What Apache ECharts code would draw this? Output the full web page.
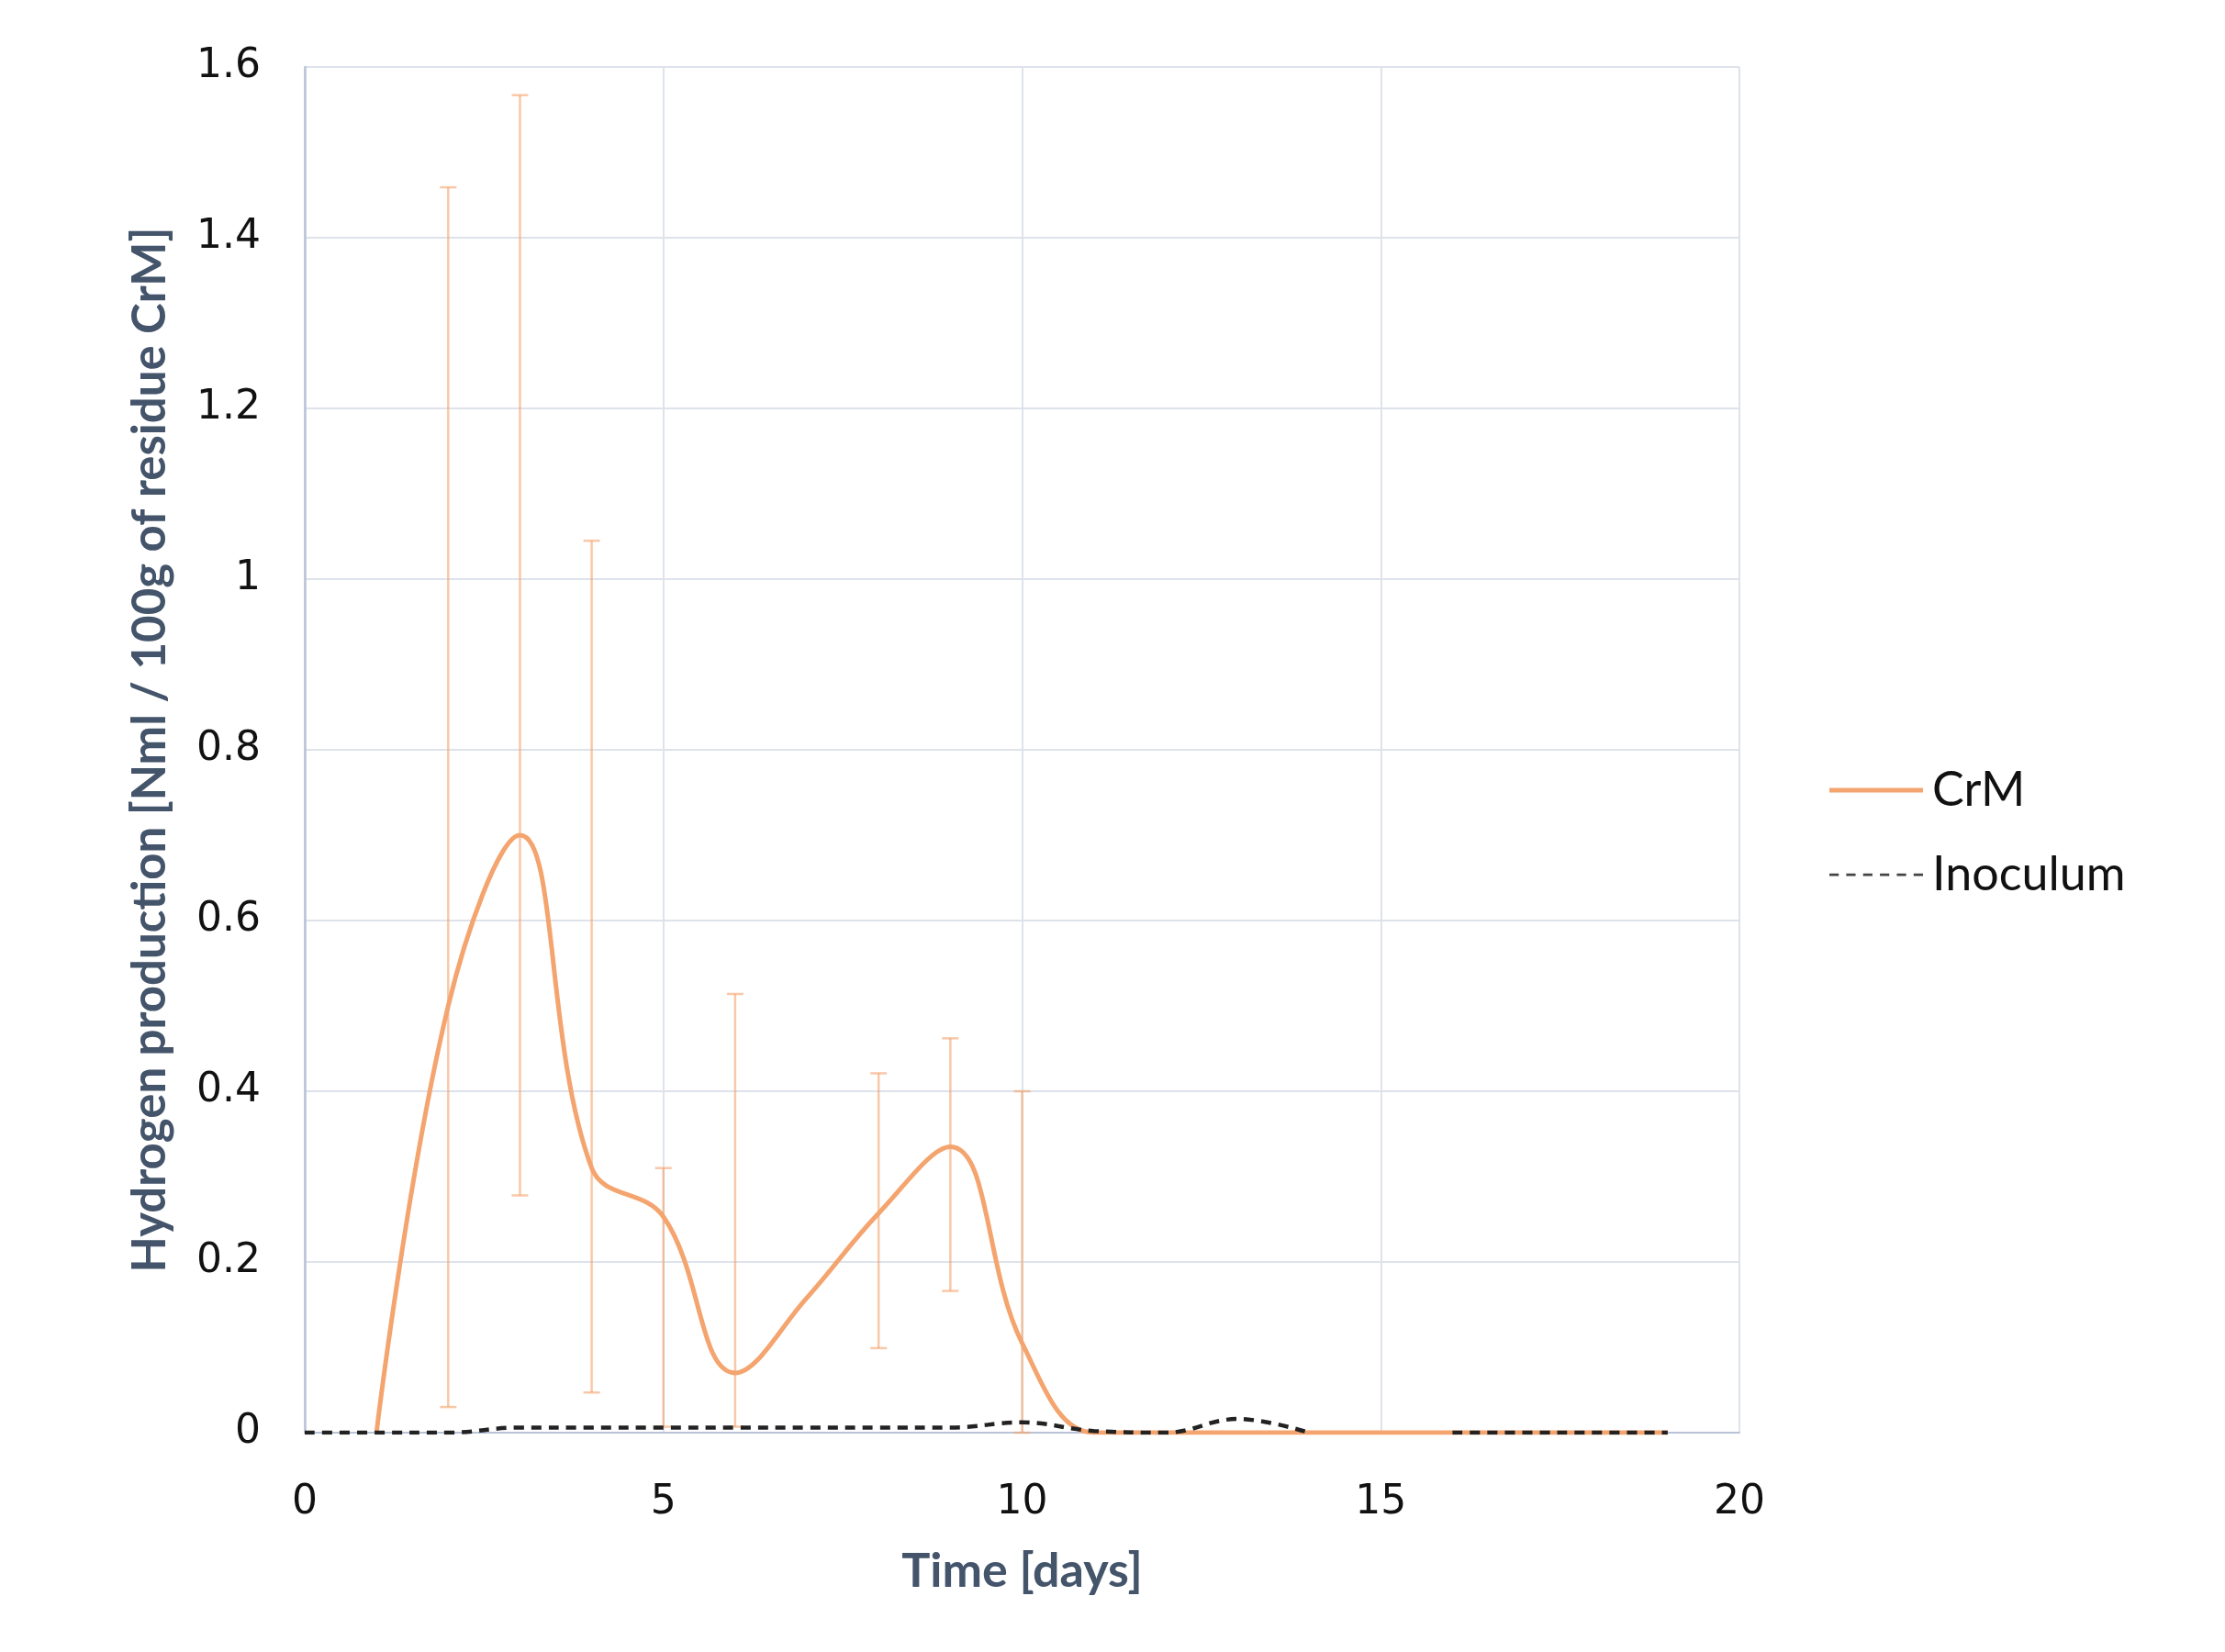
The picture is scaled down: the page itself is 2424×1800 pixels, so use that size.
<!DOCTYPE html>
<html>
<head>
<meta charset="utf-8">
<script src="https://cdn.jsdelivr.net/npm/echarts@6/dist/echarts.min.js"></script>
<style>
html,body{margin:0;padding:0;background:#fff;}
#chart{width:2424px;height:1800px;}
</style>
</head>
<body>
<div id="chart"></div>
<script>
// ---- data ----
const crmDays = [1, 2, 3, 4, 5, 6, 7, 8, 9, 10, 11, 12, 13, 14, 15, 16, 17, 18, 19];
const crmValues = [0, 0.50, 0.70, 0.31, 0.253, 0.07, 0.158, 0.257, 0.335, 0.105, 0, 0, 0, 0, 0, 0, 0, 0, 0];
const inocDays = [0, 1, 2, 3, 4, 5, 6, 7, 8, 9, 10, 11, 12, 13, 14, 15, 16, 17, 18, 19];
const inocValues = [0, 0, 0, 0.006, 0.006, 0.006, 0.006, 0.006, 0.006, 0.006, 0.012, 0.002, 0, 0.016, 0, null, 0, 0, 0, 0];
const errDays = [2, 3, 4, 5, 6, 8, 9, 10];
const errLow = [0.03, 0.278, 0.047, 0.007, 0.007, 0.099, 0.166, 0.0];
const errHigh = [1.459, 1.567, 1.045, 0.31, 0.514, 0.421, 0.462, 0.40];
const xTicks = [0, 5, 10, 15, 20];
const yTicks = [0, 0.2, 0.4, 0.6, 0.8, 1, 1.2, 1.4, 1.6];
const seriesNames = ['CrM', 'Inoculum'];
const xTitle = 'Time [days]';
const yTitle = 'Hydrogen production [Nml / 100g of residue CrM]';

const crmData = crmDays.map((d, i) => [d, crmValues[i]]);
const inocData = inocDays.map((d, i) => [d, inocValues[i]]);
const errData = errDays.map((d, i) => [d, errLow[i], errHigh[i]]);

const chart = echarts.init(document.getElementById('chart'));
const ORANGE = '#F4A46E';
const ERR = 'rgba(244,164,110,0.6)';
const GRID = '#DDE2EB';
const AXIS = '#B8C3D6';
const TITLE_FONT = 'Lato';

// legend icons: bounding box 100 x 10 fixed by tiny corner triangles
const corners = 'M0,0 L0.01,0 L0.01,0.01 Z M100,10 L99.99,10 L99.99,9.99 Z ';
const solidIcon = 'path://' + corners + 'M0,2.6 L100,2.6 L100,7.4 L0,7.4 Z';
let dashed = '';
for (let k = 0; k < 6; k++) {
  const x0 = k * 18;
  dashed += 'M' + x0 + ',3.8 L' + (x0 + 10) + ',3.8 L' + (x0 + 10) + ',6.4 L' + x0 + ',6.4 Z ';
}
const dashedIcon = 'path://' + corners + dashed;

chart.setOption({
  animation: false,
  backgroundColor: '#ffffff',
  grid: { left: 332, right: 529, top: 73, bottom: 239, containLabel: false },
  xAxis: {
    type: 'value', min: xTicks[0], max: xTicks[xTicks.length - 1], interval: 5,
    name: xTitle, nameLocation: 'middle', nameGap: 125,
    nameTextStyle: { fontFamily: TITLE_FONT, fontWeight: 'bold', fontSize: 52, color: '#44546A' },
    axisLine: { show: true, lineStyle: { color: AXIS, width: 2 } },
    axisTick: { show: false },
    axisLabel: { fontFamily: 'DejaVu Sans', fontSize: 44, color: '#111', margin: 55 },
    splitLine: { show: true, lineStyle: { color: GRID, width: 2 } }
  },
  yAxis: {
    type: 'value', min: yTicks[0], max: yTicks[yTicks.length - 1], interval: 0.2,
    name: yTitle, nameLocation: 'middle', nameGap: 143, nameRotate: 90,
    nameTextStyle: { fontFamily: TITLE_FONT, fontWeight: 'bold', fontSize: 51, color: '#44546A' },
    axisLine: { show: true, lineStyle: { color: AXIS, width: 2.5 } },
    axisTick: { show: false },
    axisLabel: { fontFamily: 'DejaVu Sans', fontSize: 44, color: '#111', margin: 48,
      formatter: v => String(Math.round(v * 10) / 10) },
    splitLine: { show: true, lineStyle: { color: GRID, width: 2 } }
  },
  legend: {
    orient: 'vertical', left: 1988, top: 830, itemWidth: 102, itemHeight: 10.2, itemGap: 40,
    data: [
      { name: seriesNames[0], icon: solidIcon, itemStyle: { color: ORANGE } },
      { name: seriesNames[1], icon: dashedIcon, itemStyle: { color: '#444444' } }
    ],
    textStyle: { fontFamily: 'Lato', fontSize: 52, color: '#111', padding: [0, 0, 0, 5] }
  },
  series: [
    {
      type: 'custom', name: 'err', silent: true, z: 1,
      data: errData,
      encode: { x: 0, y: [1, 2] },
      renderItem: function (params, api) {
        const x = api.value(0);
        const lo = api.coord([x, api.value(1)]);
        const hi = api.coord([x, api.value(2)]);
        const cw = 9;
        const style = { stroke: ERR, lineWidth: 2.5 };
        return {
          type: 'group',
          children: [
            { type: 'line', shape: { x1: lo[0], y1: lo[1], x2: hi[0], y2: hi[1] }, style: style },
            { type: 'line', shape: { x1: hi[0] - cw, y1: hi[1], x2: hi[0] + cw, y2: hi[1] }, style: style },
            { type: 'line', shape: { x1: lo[0] - cw, y1: lo[1], x2: lo[0] + cw, y2: lo[1] }, style: style }
          ]
        };
      }
    },
    {
      type: 'line', name: seriesNames[0], data: crmData, smooth: 0.4, showSymbol: false, symbol: 'none', z: 3,
      lineStyle: { color: ORANGE, width: 5 }, itemStyle: { color: ORANGE }
    },
    {
      type: 'line', name: seriesNames[1], data: inocData, smooth: 0.4, showSymbol: false, symbol: 'none', z: 4,
      connectNulls: false,
      lineStyle: { color: '#222222', width: 4.5, type: [11, 8] }, itemStyle: { color: '#222222' }
    }
  ]
});
</script>
</body>
</html>
